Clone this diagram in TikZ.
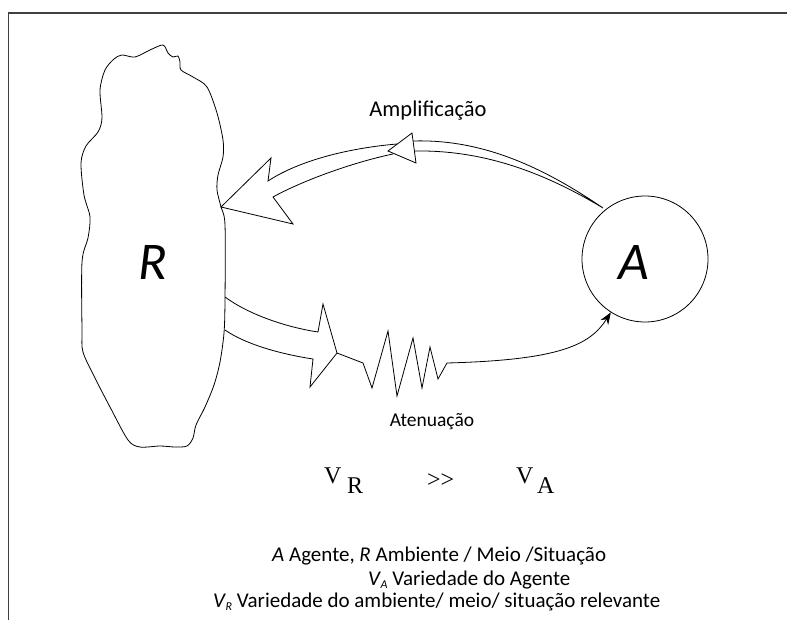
\documentclass[tikz,border=0pt]{standalone}
\usepackage{fontspec}
\setmainfont{Carlito}
\newfontfamily\serifv{Liberation Serif}
\usetikzlibrary{arrows.meta}
\tikzset{
  outline/.style={draw=black, line width=0.8pt, line join=miter},
  frameline/.style={draw=black!75, line width=1.6pt},
  label/.style={inner sep=0pt, anchor=center},
  legend/.style={inner sep=0pt, anchor=base west, font=\fontsize{21}{21}\selectfont},
  vtext/.style={inner sep=0pt, anchor=base west, font=\serifv\fontsize{24}{24}\selectfont},
}
\begin{document}
\begin{tikzpicture}[x=1pt, y=-1pt]
\useasboundingbox (0,0) rectangle (787,620);
% frame
\draw[frameline] (8.5,620) -- (8.5,13) -- (787,13);

% environment blob
\draw[outline] plot[smooth cycle, tension=0.5] coordinates {
  (163,45) (168,53) (173,57) (178,56) (180,62) (181,70) (193,77) (207,87)
  (217,113) (223,140) (223,157) (218,175) (217,190) (221,207) (225,225)
  (225,300) (224,333) (220,362) (214,385) (205,407) (196,425) (193,438)
  (187,446) (175,447) (160,446) (140,447) (128,440) (110,407) (95,378)
  (83,352) (82,330) (82,262) (88,238) (90,217) (84,195) (81,163) (86,146)
  (98,132) (102,118) (100,90) (105,70) (114,59) (122,55) (135,57) (150,50)};
\node[label, font=\fontsize{53}{53}\itshape] (R) at (153,262) {R};

% agent
\node[circle, draw, line width=0.8pt, minimum size=126pt, inner sep=0pt] (A) at (645,259) {};
\node[label, font=\fontsize{53}{53}\itshape] (Alab) at (634,262) {A};

% amplification arrow (hollow, from agent back to environment)
\coordinate (amp0) at (603,208);
\draw[outline]
  (amp0) .. controls (540,165) and (480,139) .. (413,141)
  (amp0) .. controls (540,170) and (480,150) .. (415,151);
\draw[outline] (388,151) -- (412,133) -- (416,163) -- cycle;
\draw[outline]
  (397,144) .. controls (350,148) and (300,160) .. (268,181)
  -- (271,158) -- (221,207) -- (293,224) -- (273,197)
  .. controls (300,182) and (350,163) .. (393,154);
\node[label, font=\fontsize{22.5}{22.5}\selectfont] (amp) at (428,111) {Amplificação};

% attenuation arrow (hollow, then resistor, then to agent)
\draw[outline]
  (225,297) .. controls (248,314) and (285,327) .. (318,332)
  -- (323,304) -- (337,353) -- (310,387) -- (313,359)
  .. controls (280,354) and (245,344) .. (225,330);
\coordinate (zz) at (447,363);
\draw[outline]
  (337,353) -- (363,363) -- (372,388) -- (388,331) -- (397,396) -- (413,338)
  -- (422,388) -- (430,347) -- (438,379) -- (zz);
\draw[outline, -{Stealth[length=12pt, width=9pt]}]
  (zz) .. controls (560,360) and (590,345) .. (A);
\node[label, font=\fontsize{19.5}{19.5}\selectfont] (att) at (432,422) {Atenuação};

% variety comparison
\node[vtext] (VR) at (324,483) {V};
\node[vtext] (VRs) at (347,493) {R};
\node[vtext] (gg) at (427,487) {>>};
\node[vtext] (VA) at (516,483) {V};
\node[vtext] (VAs) at (537,493) {A};

% legend
\node[legend] (l1) at (272,561) {\textit{A} Agente, \textit{R} Ambiente / Meio /Situação};
\node[legend] (l2) at (368,585) {\textit{V}\kern-0.5pt\raisebox{-3pt}{\fontsize{12}{12}\selectfont\textit{A}} Variedade do Agente};
\node[legend] (l3) at (213,607) {\textit{V}\kern-0.5pt\raisebox{-3pt}{\fontsize{12}{12}\selectfont\textit{R}} Variedade do ambiente/ meio/ situação relevante};
\end{tikzpicture}
\end{document}
